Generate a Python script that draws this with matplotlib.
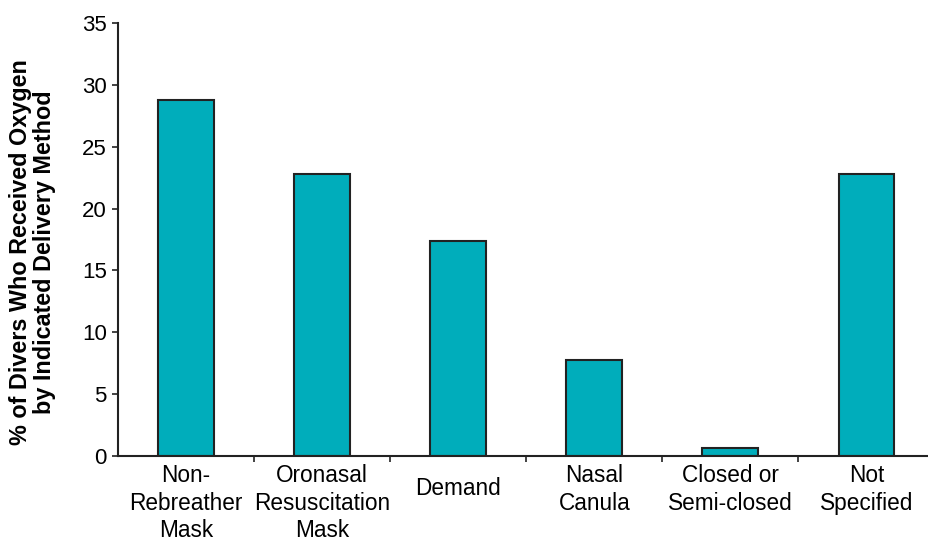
import matplotlib.pyplot as plt
from matplotlib.transforms import ScaledTranslation

categories = ['Non-\nRebreather\nMask', 'Oronasal\nResuscitation\nMask', 'Demand',
              'Nasal\nCanula', 'Closed or\nSemi-closed', 'Not\nSpecified']
percent = [28.8, 22.8, 17.4, 7.8, 0.65, 22.8]
yticks = [0, 5, 10, 15, 20, 25, 30, 35]

plt.rcParams['font.family'] = ['Liberation Sans', 'DejaVu Sans']

fig = plt.figure(figsize=(9.29, 5.43), dpi=100)
ax = fig.add_axes([0.127, 0.1602, 0.873, 0.7974])

x = list(range(len(categories)))
ax.bar(x, percent, width=0.41, color='#00ADBB', edgecolor='#222222', linewidth=1.5)

ax.set_xlim(-0.5, 5.46)
ax.set_ylim(0, 35)
ax.set_yticks(yticks)
ax.tick_params(axis='y', labelsize=16, length=4, width=1.2, color='#222222', pad=4)

# ticks between categories, labels centred on bars
ax.set_xticks([i + 0.5 for i in x[:-1]])
ax.set_xticklabels([])
ax.set_xticks(x, minor=True)
ax.set_xticklabels(categories, minor=True, fontsize=16.3, linespacing=1.24)
ax.tick_params(axis='x', which='major', length=4, width=1.2, color='#222222')
ax.tick_params(axis='x', which='minor', length=0, pad=6)

for lab in ax.get_xticklabels(minor=True):
    if lab.get_text() == 'Demand':
        lab.set_transform(lab.get_transform() + ScaledTranslation(0, -9 / 72, fig.dpi_scale_trans))

for s in ['top', 'right']:
    ax.spines[s].set_visible(False)
for s in ['left', 'bottom']:
    ax.spines[s].set_linewidth(1.5)
    ax.spines[s].set_color('#222222')

ax.set_ylabel('% of Divers Who Received Oxygen\nby Indicated Delivery Method',
              fontsize=16.8, fontweight='bold', linespacing=1.05)
ax.yaxis.set_label_coords(-0.077, 0.47)

fig.savefig('out.png', dpi=100)
